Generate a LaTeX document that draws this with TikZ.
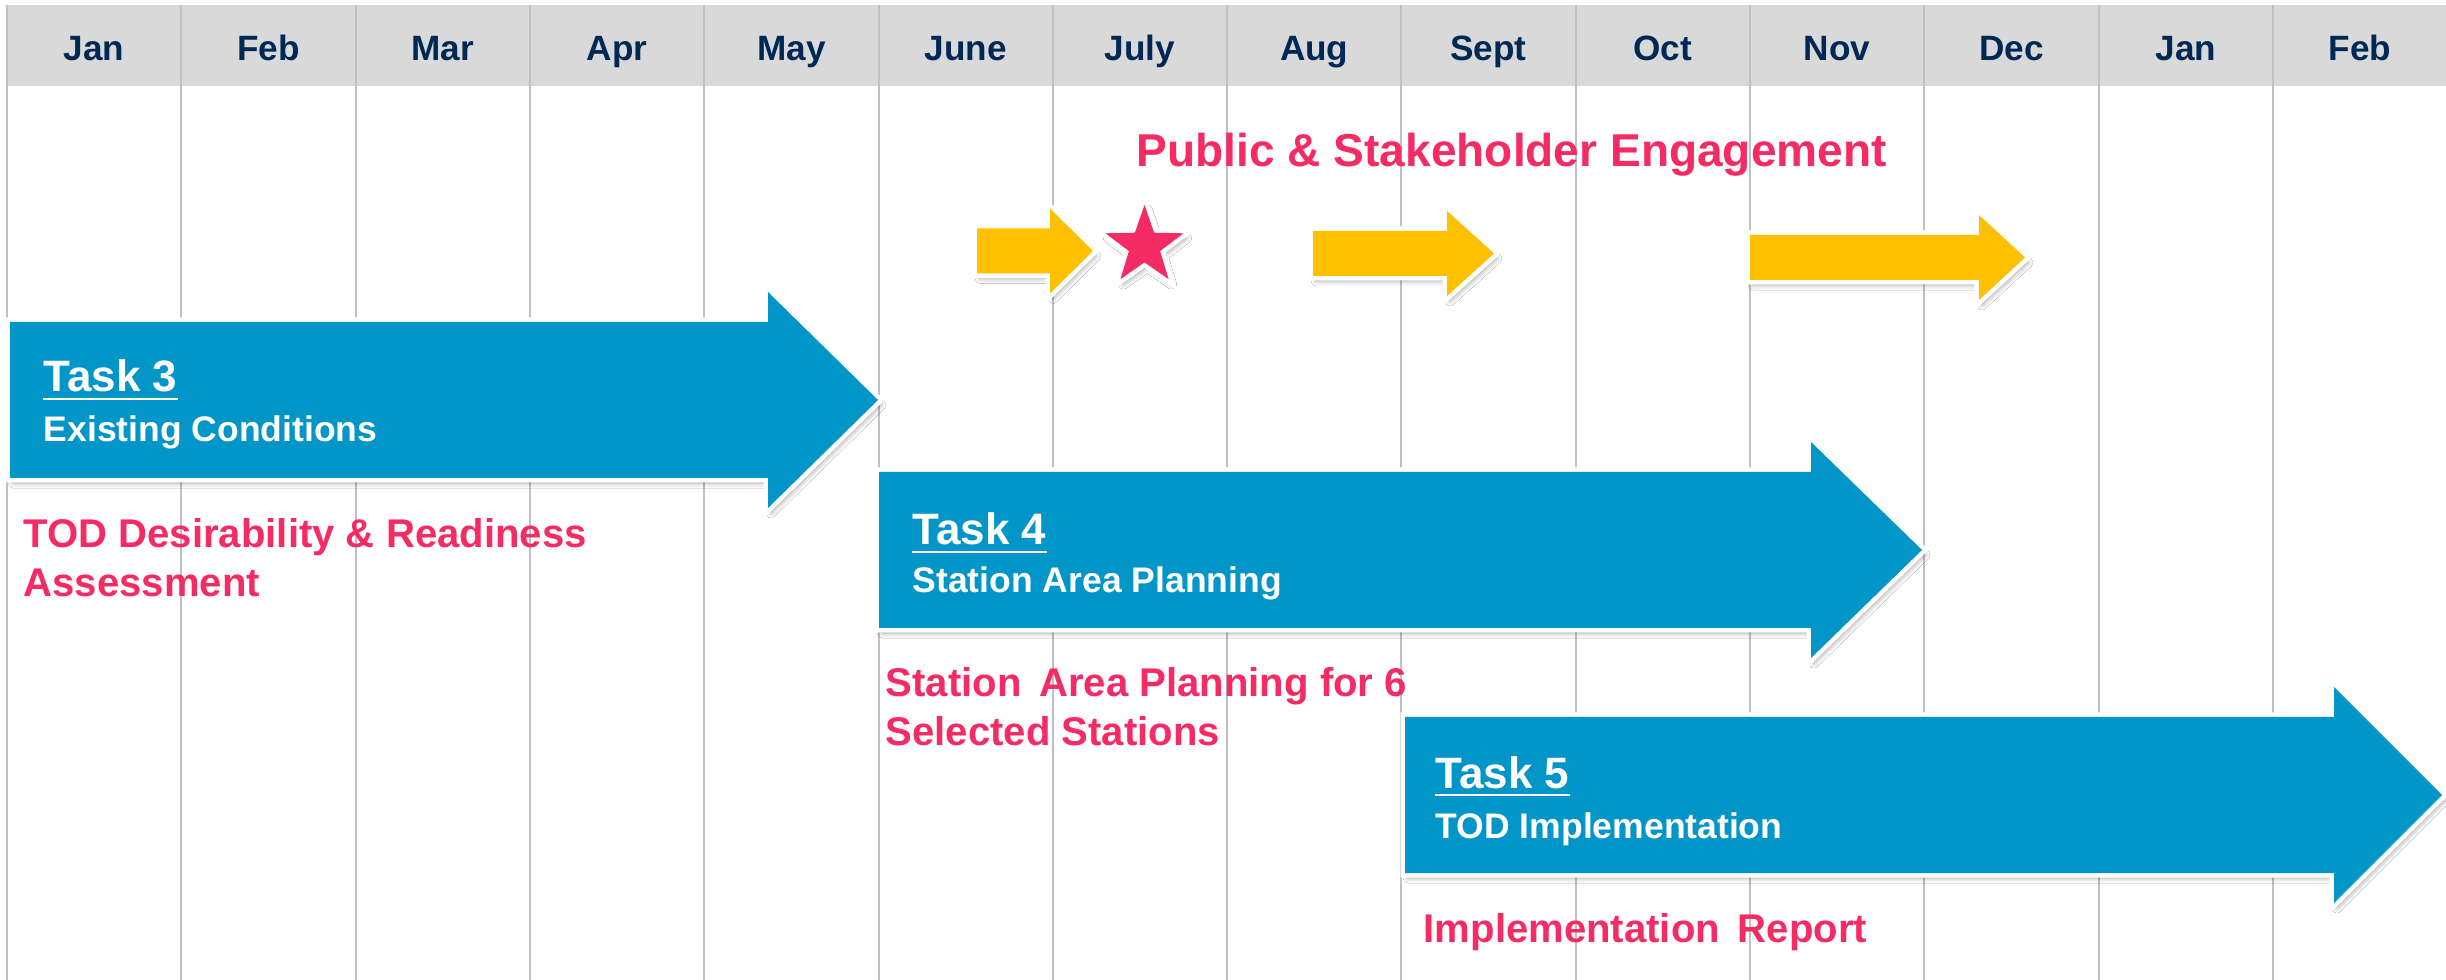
\documentclass[tikz,border=0pt]{standalone}
\usepackage{fontspec}
\setmainfont{Liberation Sans}
\usetikzlibrary{shapes.geometric,shadows.blur}

\definecolor{taskblue}{RGB}{2,149,200}
\definecolor{engyellow}{RGB}{255,192,0}
\definecolor{notepink}{RGB}{245,43,100}
\definecolor{monthnavy}{RGB}{0,40,85}
\definecolor{headgray}{RGB}{217,217,217}
\definecolor{gridgray}{RGB}{192,192,192}
\newcommand{\colw}{174.3}

\begin{document}
\begin{tikzpicture}
    [x=0.01cm, y=-0.01cm,
    every node/.style = {inner sep=0pt, anchor=base west},
    month/.style = {anchor=base, text=monthnavy,
        font=\fontsize{10}{12}\selectfont\bfseries},
    taskname/.style = {text=white, font=\fontsize{12.5}{15}\selectfont\bfseries},
    subtitle/.style = {text=white, font=\fontsize{10.1}{12}\selectfont\bfseries},
    note/.style = {text=notepink, align=left,
        font=\fontsize{11.4}{14.2}\selectfont\bfseries},
    headline/.style = {text=notepink, font=\fontsize{13.1}{16}\selectfont\bfseries},
    soft/.style = {blur shadow={shadow xshift=0.03cm, shadow yshift=-0.05cm,
        shadow blur radius=0.05cm, shadow opacity=35}},
    rim/.style = {preaction={draw=white, line width=0.09cm}},
    taskarrow/.style = {soft, rim, fill=taskblue},
    engarrow/.style = {soft, rim, fill=engyellow},
    gridline/.style = {draw=gridgray, line width=0.02cm},
    taskrule/.style = {draw=white, line width=0.028cm}]

    \useasboundingbox[fill=white] (0,0) rectangle (2446,980);

    % header row and month grid
    \fill[headgray] (7,5) rectangle (2446,86);
    \foreach \i in {0,...,13}
        \draw[gridline] ({7+\colw*\i},5) -- ({7+\colw*\i},980);
    \foreach \m [count=\i from 0] in {Jan,Feb,Mar,Apr,May,June,July,Aug,Sept,Oct,Nov,Dec,Jan,Feb}
        \node[month] (month\i) at ({7+\colw*(\i+0.5)},61) {\m};

    % task arrows: body start / head start / tip / centre
    \foreach \bx/\hx/\tx/\cy in {10/768/878/400, 879/1811/1922/550, 1405/2334/2442/795}
        \fill[taskarrow] (\bx,\cy-78) -- (\hx,\cy-78) -- (\hx,\cy-108) -- (\tx,\cy)
            -- (\hx,\cy+108) -- (\hx,\cy+78) -- (\bx,\cy+78) -- cycle;

    % engagement arrows and milestone
    \foreach \bx/\hx/\tx/\cy in {977/1050/1093/251, 1313/1447/1494/253.5, 1750/1979/2025/257.5}
        \fill[engarrow] (\bx,\cy-22.5) -- (\hx,\cy-22.5) -- (\hx,\cy-42.5) -- (\tx,\cy)
            -- (\hx,\cy+42.5) -- (\hx,\cy+22.5) -- (\bx,\cy+22.5) -- cycle;
    \node[star, star points=5, star point ratio=2.5, minimum size=0.82cm,
        anchor=center, soft, rim, fill=notepink] (star) at (1144.5,246) {};
    \node[headline] (engage) at (1136,167) {Public \& Stakeholder Engagement};

    % task labels (multi-line notes sit on their last baseline)
    \node[taskname] (task3) at (43,392) {Task 3};
    \node[subtitle] (task3sub) at (43,442) {Existing Conditions};
    \node[note] (task3note) at (23,597) {TOD Desirability \& Readiness\\Assessment};

    \node[taskname] (task4) at (912,545) {Task 4};
    \node[subtitle] (task4sub) at (912,593) {Station Area Planning};
    \node[note] (task4note) at (885,746) {Station\, Area Planning for 6\\Selected Stations};

    \node[taskname] (task5) at (1435,788) {Task 5};
    \node[subtitle] (task5sub) at (1435,838) {TOD Implementation};
    \node[note] (task5note) at (1423,942) {Implementation\, Report};

    \foreach \n in {task3,task4,task5}
        \draw[taskrule] ([yshift=-0.07cm]\n.base west) -- ([yshift=-0.07cm]\n.base east);
\end{tikzpicture}
\end{document}
